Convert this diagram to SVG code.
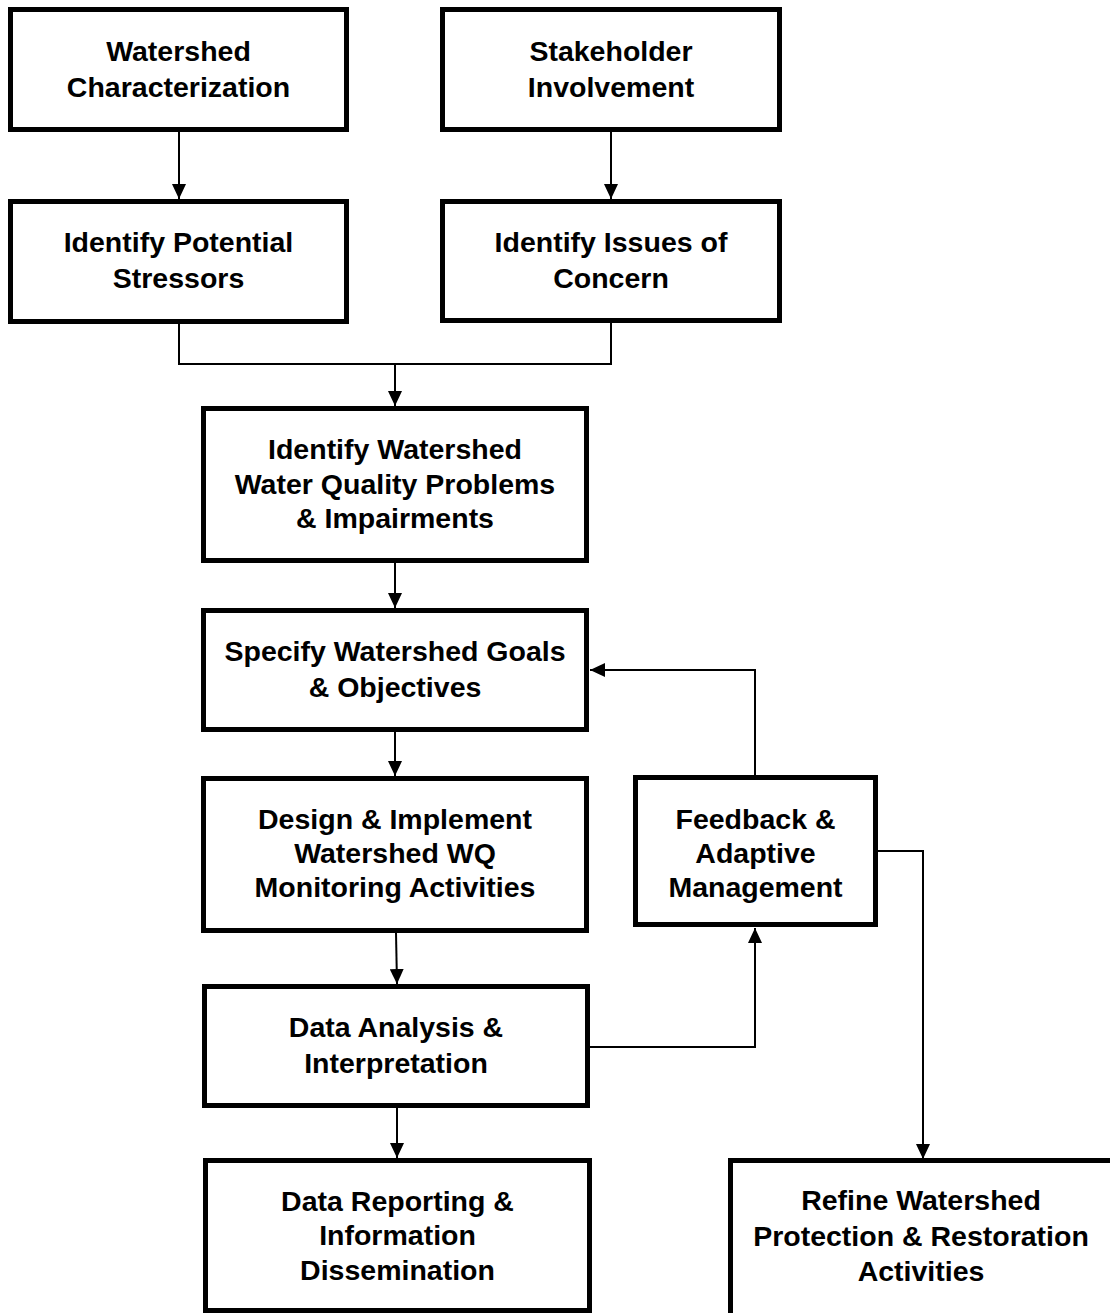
<svg xmlns="http://www.w3.org/2000/svg" width="1110" height="1313" viewBox="0 0 1110 1313">
<style>
  .box { fill: #ffffff; stroke: #000000; stroke-width: 5; }
  .lbl { font-family: "Liberation Sans", Arial, sans-serif; font-weight: bold; font-size: 28.5px; fill: #000000; text-anchor: middle; }
  .conn { fill: none; stroke: #000000; stroke-width: 2; }
</style>
<defs>
  <marker id="arrow" viewBox="0 0 15 14" refX="15" refY="7" markerWidth="15" markerHeight="14" markerUnits="userSpaceOnUse" orient="auto">
    <path d="M0,0 L15,7 L0,14 Z" fill="#000000"/>
  </marker>
</defs>
<rect width="1110" height="1313" fill="#ffffff"/>

<g id="connectors">
  <path class="conn" d="M179,132 L179,199" marker-end="url(#arrow)"/>
  <path class="conn" d="M611,132 L611,199" marker-end="url(#arrow)"/>
  <path class="conn" d="M179,324 L179,364 L611,364 L611,323"/>
  <path class="conn" d="M395,364 L395,406" marker-end="url(#arrow)"/>
  <path class="conn" d="M395,563 L395,608" marker-end="url(#arrow)"/>
  <path class="conn" d="M395,732 L395,776" marker-end="url(#arrow)"/>
  <path class="conn" d="M396,933 L397,984" marker-end="url(#arrow)"/>
  <path class="conn" d="M397,1108 L397,1158" marker-end="url(#arrow)"/>
  <path class="conn" d="M590,1047 L755,1047 L755,928" marker-end="url(#arrow)"/>
  <path class="conn" d="M755,775 L755,670 L590,670" marker-end="url(#arrow)"/>
  <path class="conn" d="M878,851 L923,851 L923,1159" marker-end="url(#arrow)"/>
</g>

<g id="node-watershed-characterization">
  <rect class="box" x="10.5" y="9.5" width="336" height="120"/>
  <text class="lbl" x="178.5" y="61">Watershed</text>
  <text class="lbl" x="178.5" y="97">Characterization</text>
</g>
<g id="node-stakeholder-involvement">
  <rect class="box" x="442.5" y="9.5" width="337" height="120"/>
  <text class="lbl" x="611" y="61">Stakeholder</text>
  <text class="lbl" x="611" y="97">Involvement</text>
</g>
<g id="node-identify-potential-stressors">
  <rect class="box" x="10.5" y="201.5" width="336" height="120"/>
  <text class="lbl" x="178.5" y="252">Identify Potential</text>
  <text class="lbl" x="178.5" y="288">Stressors</text>
</g>
<g id="node-identify-issues">
  <rect class="box" x="442.5" y="201.5" width="337" height="119"/>
  <text class="lbl" x="611" y="252">Identify Issues of</text>
  <text class="lbl" x="611" y="288">Concern</text>
</g>
<g id="node-identify-problems">
  <rect class="box" x="203.5" y="408.5" width="383" height="152"/>
  <text class="lbl" x="395" y="459">Identify Watershed</text>
  <text class="lbl" x="395" y="494">Water Quality Problems</text>
  <text class="lbl" x="395" y="528">&amp; Impairments</text>
</g>
<g id="node-specify-goals">
  <rect class="box" x="203.5" y="610.5" width="383" height="119"/>
  <text class="lbl" x="395" y="661">Specify Watershed Goals</text>
  <text class="lbl" x="395" y="697">&amp; Objectives</text>
</g>
<g id="node-design-implement">
  <rect class="box" x="203.5" y="778.5" width="383" height="152"/>
  <text class="lbl" x="395" y="829">Design &amp; Implement</text>
  <text class="lbl" x="395" y="863">Watershed WQ</text>
  <text class="lbl" x="395" y="897">Monitoring Activities</text>
</g>
<g id="node-feedback">
  <rect class="box" x="635.5" y="777.5" width="240" height="147"/>
  <text class="lbl" x="755.5" y="829">Feedback &amp;</text>
  <text class="lbl" x="755.5" y="863">Adaptive</text>
  <text class="lbl" x="755.5" y="897">Management</text>
</g>
<g id="node-data-analysis">
  <rect class="box" x="204.5" y="986.5" width="383" height="119"/>
  <text class="lbl" x="396" y="1037">Data Analysis &amp;</text>
  <text class="lbl" x="396" y="1073">Interpretation</text>
</g>
<g id="node-data-reporting">
  <rect class="box" x="205.5" y="1160.5" width="384" height="150"/>
  <text class="lbl" x="397.5" y="1211">Data Reporting &amp;</text>
  <text class="lbl" x="397.5" y="1245">Information</text>
  <text class="lbl" x="397.5" y="1280">Dissemination</text>
</g>
<g id="node-refine">
  <rect class="box" x="730.5" y="1160.5" width="400" height="200"/>
  <text class="lbl" x="921" y="1210">Refine Watershed</text>
  <text class="lbl" x="921" y="1246">Protection &amp; Restoration</text>
  <text class="lbl" x="921" y="1281">Activities</text>
</g>
</svg>
